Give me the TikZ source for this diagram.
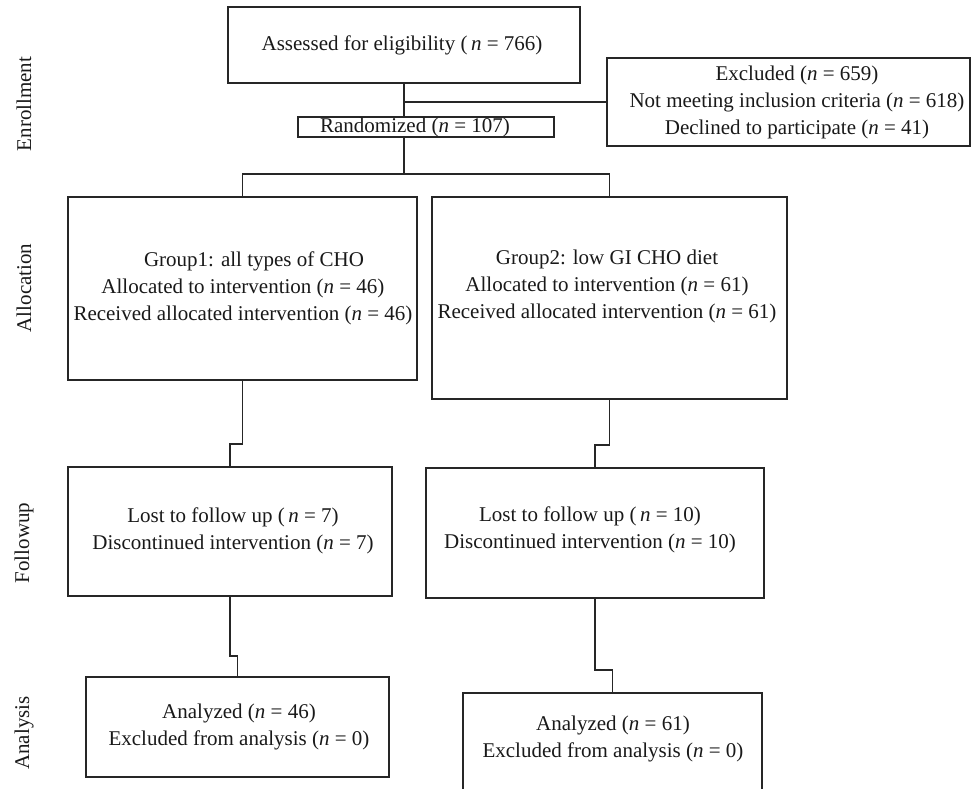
\documentclass[tikz,border=0pt]{standalone}
\usepackage{fontspec}
\setmainfont{Liberation Serif}
\begin{document}
\begin{tikzpicture}[x=1pt,y=-1pt,
  box/.style={draw=black!85,line width=1.1pt,rectangle,inner sep=0pt,outer sep=0pt},
  txt/.style={align=center,inner sep=0pt,font=\fontsize{21}{27}\selectfont,text=black!90},
  side/.style={rotate=90,inner sep=0pt,font=\fontsize{21}{27}\selectfont,text=black!90},
  conn/.style={draw=black!85,line width=1.1pt}]
\useasboundingbox (0,0) rectangle (973,788);
\clip (0,0) rectangle (973,788);
% side labels
\node[side] (lab1) at (24,104) {Enrollment};
\node[side] (lab2) at (24,288) {Allocation};
\node[side] (lab3) at (24,543) {Followup};
\node[side] (lab4) at (24,733) {Analysis};
% boxes
\node[box,minimum width=352pt,minimum height=76pt] (assess) at (404,45) {};
\node[box,minimum width=256pt,minimum height=20pt] (rand) at (426,127) {};
\node[box,minimum width=363pt,minimum height=88pt] (excl) at (788.5,102) {};
\node[box,minimum width=349pt,minimum height=183pt] (g1) at (242.5,288.5) {};
\node[box,minimum width=355pt,minimum height=202pt] (g2) at (609.5,298) {};
\node[box,minimum width=324pt,minimum height=129pt] (fu1) at (230,531.5) {};
\node[box,minimum width=338pt,minimum height=130pt] (fu2) at (595,533) {};
\node[box,minimum width=303pt,minimum height=100pt] (an1) at (237.5,727) {};
\node[box,minimum width=299pt,minimum height=117pt] (an2) at (612.5,751.5) {};
% texts
\node[txt] (assess-t) at (402,45) {Assessed for eligibility (\,\textit{n} = 766)};
\node[txt] (rand-t) at (415,127) {Randomized (\textit{n} = 107)};
\node[txt] (excl-t) at (797,102) {Excluded (\textit{n} = 659)\\Not meeting inclusion criteria (\textit{n} = 618)\\Declined to participate (\textit{n} = 41)};
\node[txt] (g1-t) at (243,288) {\hspace*{22pt}Group1: all types of CHO\\Allocated to intervention (\textit{n} = 46)\\Received allocated intervention (\textit{n} = 46)};
\node[txt] (g2-t) at (607,286) {Group2: low GI CHO diet\\Allocated to intervention (\textit{n} = 61)\\Received allocated intervention (\textit{n} = 61)};
\node[txt] (fu1-t) at (233,530.5) {Lost to follow up (\,\textit{n} = 7)\\Discontinued intervention (\textit{n} = 7)};
\node[txt] (fu2-t) at (590,530) {Lost to follow up (\,\textit{n} = 10)\\Discontinued intervention (\textit{n} = 10)};
\node[txt] (an1-t) at (239,727) {Analyzed (\textit{n} = 46)\\Excluded from analysis (\textit{n} = 0)};
\node[txt] (an2-t) at (613,738.5) {Analyzed (\textit{n} = 61)\\Excluded from analysis (\textit{n} = 0)};
% connectors
\draw[conn] (assess.south) -- (assess.south |- rand.north);
\draw[conn] (assess.south |- excl.west) -- (excl.west);
\draw[conn] (rand.south -| assess.south) -- ++(0,37) coordinate (split);
\draw[conn] (g1.north) |- (split) -| (g2.north);
\draw[conn] (g1.south) -- ++(0,64) -| (fu1.north);
\draw[conn] (fu1.south) -- ++(0,60) -| (an1.north);
\draw[conn] (g2.south) -- ++(0,46) -| (fu2.north);
\draw[conn] (fu2.south) -- ++(0,72) -| (an2.north);
\end{tikzpicture}
\end{document}
